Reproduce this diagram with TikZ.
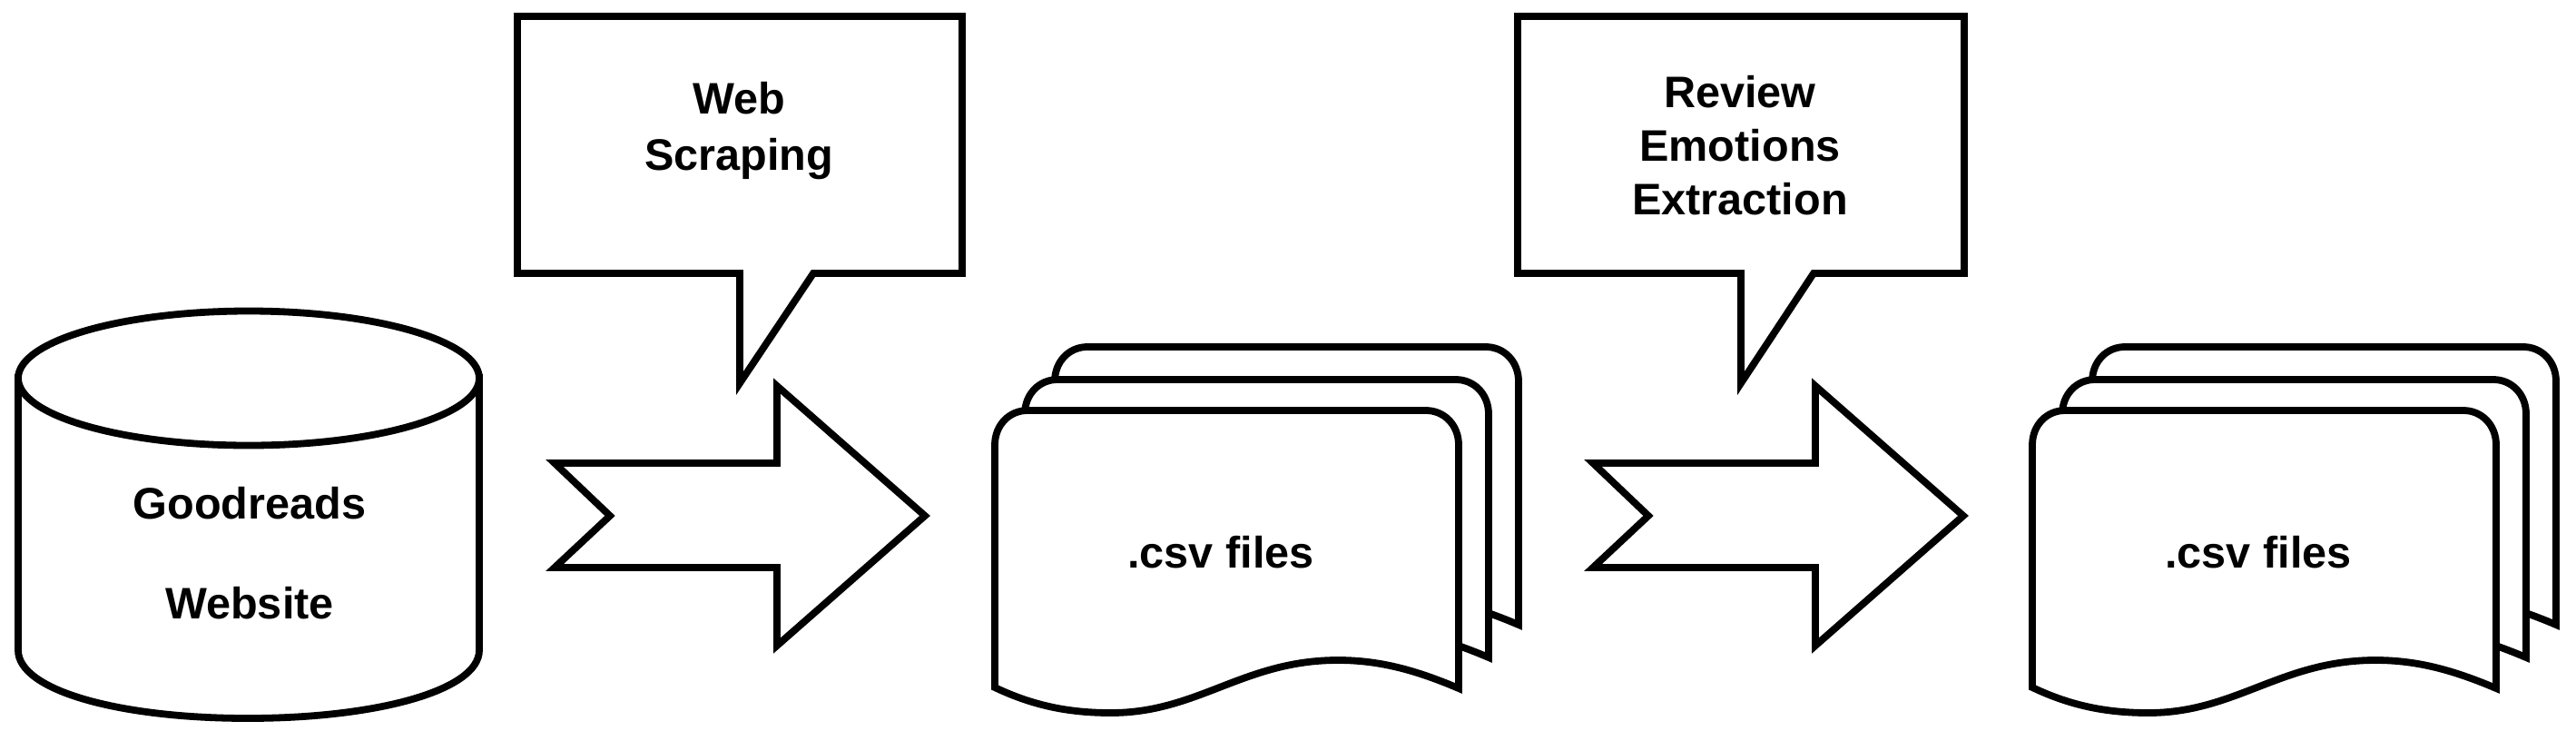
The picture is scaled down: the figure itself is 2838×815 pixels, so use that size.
\documentclass[tikz,border=0pt]{standalone}
\usepackage{fontspec}
\setmainfont{Liberation Sans}
\tikzset{
  shapeline/.style={draw=black,line width=3.9pt,fill=white,line join=miter},
  label/.style={inner sep=0pt,anchor=base,font=\fontsize{24.3}{28}\bfseries,text=black},
}
\newcommand{\docoutline}{%
  (1096,757) -- (1096,490) .. controls (1096,468) and (1112,452) .. (1132,452)
  -- (1571,452) .. controls (1591,452) and (1607,468) .. (1607,490)
  -- (1607,758) .. controls (1560,738) and (1520,727) .. (1474,727)
  .. controls (1370,727) and (1320,785) .. (1224,785)
  .. controls (1180,785) and (1140,778) .. (1096,757) -- cycle}
\newcommand{\docstack}{%
  \path[shapeline,miter limit=6] [shift={(66,-70)}] \docoutline;
  \path[shapeline,miter limit=6] [shift={(33,-34)}] \docoutline;
  \path[shapeline,miter limit=6] \docoutline;
}
\newcommand{\bigarrow}{%
  \path[shapeline,miter limit=10] (611,510) -- (856,510) -- (856,425) -- (1019,568)
    -- (856,711) -- (856,625) -- (611,625) -- (672,568) -- cycle;
}
\begin{document}
\begin{tikzpicture}[x=0.5pt,y=-0.5pt]
\useasboundingbox (0,0) rectangle (2838,815);
% cylinder
\path[shapeline] (20,416) -- (20,716) .. controls (20,760) and (130,791) .. (273,791)
  .. controls (416,791) and (528,760) .. (528,716) -- (528,416) -- cycle;
\path[shapeline] (274,416.5) ellipse [x radius=254pt/2,y radius=74pt/2];
\node[label] (goodreads) at (275,571) {Goodreads};
\node[label] (website) at (275,681) {Website};
% callout 1
\path[shapeline,miter limit=10] (570,18) -- (1060,18) -- (1060,301) -- (896,301) -- (815,422)
  -- (815,301) -- (570,301) -- cycle;
\node[label] (web) at (814,125) {Web};
\node[label] (scraping) at (814,187) {Scraping};
% arrow 1
\bigarrow
% documents 1
\docstack
\node[label] (csva) at (1345,625) {.csv files};
% callout 2
\path[shapeline,miter limit=10] (1672,18) -- (2164,18) -- (2164,301) -- (1998,301) -- (1918,422)
  -- (1918,301) -- (1672,301) -- cycle;
\node[label] (review) at (1917,118) {Review};
\node[label] (emotions) at (1917,177) {Emotions};
\node[label] (extraction) at (1917,236) {Extraction};
% arrow 2
\begin{scope}[shift={(1144,0)}]
\bigarrow
\end{scope}
% documents 2
\begin{scope}[shift={(1143,0)}]
\docstack
\node[label] (csvb) at (1345,625) {.csv files};
\end{scope}
\end{tikzpicture}
\end{document}
